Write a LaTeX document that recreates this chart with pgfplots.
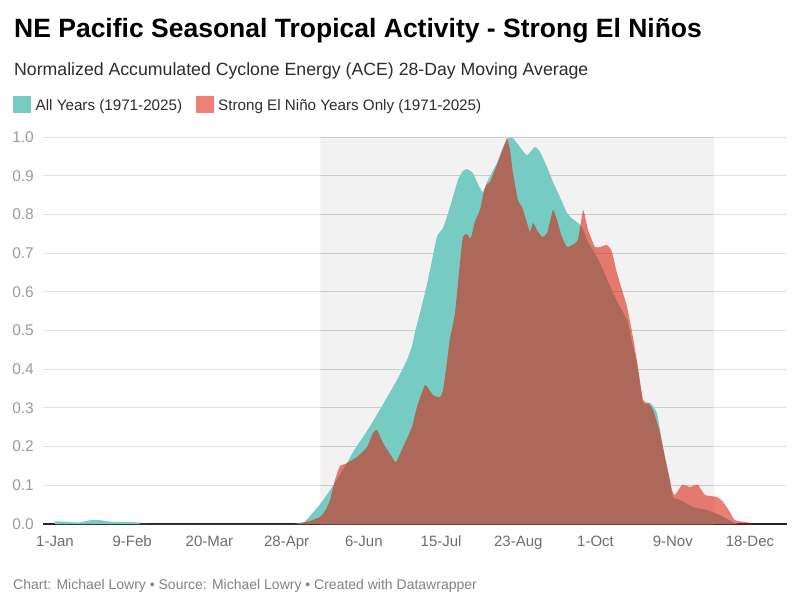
\documentclass[border=0pt]{standalone}
\usepackage{pgfplots}
\pgfplotsset{compat=1.18}
\usepackage{fontspec}
\setmainfont{Liberation Sans}
\definecolor{tealc}{RGB}{118,204,194}
\definecolor{redc}{RGB}{218,25,5}
\definecolor{redsw}{RGB}{236,128,118}
\definecolor{bandc}{RGB}{242,242,242}
\definecolor{gridc}{RGB}{224,224,224}
\definecolor{ylab}{RGB}{155,155,155}
\definecolor{xlab}{RGB}{110,110,110}
\definecolor{foot}{RGB}{130,130,130}
\definecolor{sub}{RGB}{45,45,45}
\begin{document}
\begin{tikzpicture}
\fill[white] (0,0) rectangle (800bp,-606bp);
\path[use as bounding box] (0,0) rectangle (800bp,-606bp);
\node[anchor=base west, inner sep=0pt, font=\fontsize{26.5bp}{30bp}\selectfont\bfseries] at (14bp,-37.3bp) {NE Pacific Seasonal Tropical Activity - Strong El Niños};
\node[anchor=base west, inner sep=0pt, text=sub, font=\fontsize{17.7bp}{20bp}\selectfont] at (14bp,-75.3bp) {Normalized Accumulated Cyclone Energy (ACE) 28-Day Moving Average};
\fill[tealc] (13bp,-95.7bp) rectangle (31bp,-113bp);
\node[anchor=base west, inner sep=0pt, text=sub, font=\fontsize{15.2bp}{19bp}\selectfont] at (35.5bp,-110.7bp) {All Years (1971-2025)};
\fill[redsw] (196bp,-95.7bp) rectangle (214bp,-113bp);
\node[anchor=base west, inner sep=0pt, text=sub, font=\fontsize{15.2bp}{19bp}\selectfont] at (218bp,-110.7bp) {Strong El Niño Years Only (1971-2025)};
\node[anchor=base west, inner sep=0pt, text=foot, font=\fontsize{14bp}{17bp}\selectfont] at (13bp,-589bp) {Chart: Michael Lowry • Source: Michael Lowry • Created with Datawrapper};
\begin{axis}[
  at={(43bp,-524bp)}, anchor=south west,
  scale only axis, width=744bp, height=387bp,
  xmin=-6.06, xmax=369.7, ymin=0, ymax=1,
  axis x line*=bottom, axis y line*=left,
  y axis line style={draw=none},
  x axis line style={draw=black!85, line width=1.1bp},
  major tick length=0pt,
  ymajorgrids, grid style={gridc, line width=1bp},
  xtick={0,39,78,117,156,195,234,273,312,351},
  xticklabels={1-Jan,9-Feb,20-Mar,28-Apr,6-Jun,15-Jul,23-Aug,1-Oct,9-Nov,18-Dec},
  ytick={0,0.1,0.2,0.3,0.4,0.5,0.6,0.7,0.8,0.9,1},
  yticklabels={0.0,0.1,0.2,0.3,0.4,0.5,0.6,0.7,0.8,0.9,1.0},
  yticklabel style={text=ylab, font=\fontsize{15.5bp}{18bp}\selectfont, anchor=east, inner sep=0pt, xshift=-9bp},
  xticklabel style={text=xlab, font=\fontsize{15bp}{18bp}\selectfont, anchor=base, inner sep=0pt, yshift=-22.7bp},
]
\addplot[fill=bandc, draw=none, forget plot] coordinates {(134,0)(134,1)(333,1)(333,0)} \closedcycle;
\pgfplotsinvokeforeach{0.1,0.2,0.3,0.4,0.5,0.6,0.7,0.8,0.9,1.0}{
  \addplot[gridc!90!black!98, line width=1bp, forget plot] coordinates {(134,#1)(333,#1)};
}
\addplot[fill=tealc, draw=none, smooth, tension=0.3] coordinates {
(0,0.007)(5,0.006)(12,0.004)(17,0.009)(20,0.011)(24,0.009)(28,0.006)(36,0.005)(43,0.004)(46,0.0)(120,0)(122,0.001)(126,0.005)(130,0.028)(134,0.052)(139,0.088)(143,0.12)(147.5,0.158)(151,0.19)(155.6,0.225)(160,0.26)(164,0.295)(168,0.33)(172.7,0.372)(175,0.395)(177.8,0.424)(180.3,0.46)(182,0.5)(184.3,0.545)(187,0.60)(189.4,0.656)(192.9,0.742)(196,0.765)(199.5,0.819)(203.5,0.889)(206,0.912)(208,0.917)(211,0.907)(214.6,0.868)(216.2,0.858)(218.7,0.889)(223.2,0.933)(226.3,0.974)(228.8,0.997)(231.3,0.997)(234.8,0.974)(238.4,0.953)(242.4,0.974)(245,0.961)(248.5,0.922)(251.5,0.884)(255,0.845)(258.6,0.804)(261,0.79)(263.6,0.780)(266.2,0.767)(268.7,0.734)(272,0.705)(275.3,0.674)(281.8,0.597)(285,0.565)(288.9,0.527)(291,0.48)(293.9,0.416)(297,0.313)(300.5,0.313)(304,0.287)(307,0.199)(310.6,0.114)(312,0.07)(315.7,0.062)(322.2,0.044)(329.3,0.036)(335.9,0.023)(342.4,0.005)(345,0)
} \closedcycle;
\addplot[fill=redc, fill opacity=0.55, draw=none, smooth, tension=0.3] coordinates {
(120,0)(122,0.001)(128.8,0.008)(133.8,0.018)(136.5,0.035)(138.9,0.062)(141.4,0.114)(143.9,0.150)(146.5,0.155)(152.5,0.173)(157.6,0.199)(160.6,0.235)(162.6,0.243)(165.7,0.209)(170.2,0.173)(172.2,0.160)(175.8,0.199)(180.3,0.251)(182.8,0.302)(186.9,0.359)(190.9,0.333)(194.4,0.328)(196,0.346)(198,0.42)(199.5,0.48)(202,0.545)(204.5,0.674)(206,0.742)(208,0.749)(210,0.739)(212,0.780)(214.6,0.811)(216.2,0.850)(217.7,0.876)(219.7,0.884)(222.2,0.915)(224.7,0.948)(227.3,0.984)(228.3,0.997)(229.8,0.966)(231.3,0.907)(233.8,0.837)(235.9,0.819)(238.4,0.778)(239.9,0.755)(241.4,0.778)(243.4,0.760)(246,0.742)(248.5,0.752)(251.5,0.811)(253.5,0.786)(256,0.742)(258.6,0.716)(261.1,0.721)(264.1,0.734)(266.7,0.811)(269.2,0.760)(272.7,0.716)(275.3,0.716)(278.8,0.721)(281.3,0.703)(283.8,0.649)(288.9,0.561)(291.9,0.483)(294.4,0.406)(297,0.320)(299.5,0.313)(302,0.295)(305.6,0.235)(309.1,0.147)(311.6,0.088)(313.1,0.075)(316.7,0.101)(320.7,0.096)(324.7,0.101)(328.3,0.075)(334.3,0.070)(337.4,0.057)(340.9,0.031)(343.4,0.010)(351,0.003)(353,0)
} \closedcycle;
\end{axis}
\end{tikzpicture}
\end{document}
